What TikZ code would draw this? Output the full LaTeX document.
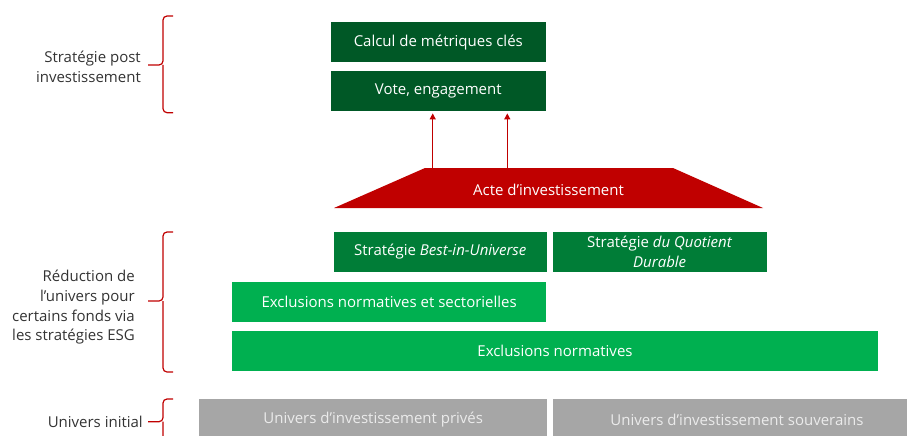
\documentclass[tikz,border=0pt]{standalone}
\usepackage{fontspec}
\setmainfont{Open Sans}
\usetikzlibrary{arrows.meta}
\definecolor{postgreen}{RGB}{0,88,38}
\definecolor{stratgreen}{RGB}{0,125,55}
\definecolor{exclgreen}{RGB}{0,176,80}
\definecolor{univgrey}{RGB}{166,166,166}
\definecolor{acteRed}{RGB}{192,0,0}
\tikzset{
  box/.style={fill=#1, text=white, inner sep=0pt, minimum height=40pt,
    font=\fontsize{15}{19.5}\selectfont, align=center},
  label/.style={text=black!80, anchor=east, inner sep=0pt,
    font=\fontsize{15}{19.7}\selectfont},
  brace line/.style={draw=acteRed, line width=1.2pt, rounded corners=4pt},
  red arrow/.style={draw=acteRed, line width=1.2pt, shorten >=2.5pt,
    -{Triangle[width=6pt,length=6pt]}}
}
% side brace: x, top, tip, bottom
\def\sidebrace(#1:#2:#3:#4){\draw[brace line] (#1+10,#2) -- (#1,#2) -- (#1,#3) -- (#1-15,#3);
  \draw[brace line] (#1,#3) -- (#1,#4) -- (#1+10,#4);}

\begin{document}
\begin{tikzpicture}[x=1pt,y=-1pt]
  %%%%% START %%%%%
  \useasboundingbox (0,0) rectangle (907,436);

  % post investissement
  \node[box=postgreen, minimum width=215pt] (calcul) at (438.3,42.3) {Calcul de métriques clés};
  \node[box=postgreen, minimum width=215pt] (vote) at (438.3,90.7) {Vote, engagement};

  % acte d'investissement
  \fill[acteRed] (334,208) -- (425,168) -- (673,168) -- (763,208) -- cycle;
  \node[text=white, font=\fontsize{15}{19.5}\selectfont] (acte) at (548.5,190) {Acte d’investissement};
  \coordinate (fleche1) at (432.7,168);
  \coordinate (fleche2) at (507.3,168);
  \draw[red arrow] (fleche1) -- (fleche1 |- vote.south);
  \draw[red arrow] (fleche2) -- (fleche2 |- vote.south);

  % reduction de l'univers
  \node[box=stratgreen, minimum width=213pt] (best) at (440.3,251.8) {Stratégie \textit{Best-in-Universe}};
  \node[box=stratgreen, minimum width=214pt] (quotient) at (659.7,251.8) {Stratégie \textit{du Quotient}\\\textit{Durable}};
  \node[box=exclgreen, minimum width=314.5pt] (exsect) at (389.2,301.5) {Exclusions normatives et sectorielles};
  \node[box=exclgreen, minimum width=646pt] (exnorm) at (555,350.8) {Exclusions normatives};

  % univers initial
  \node[box=univgrey, minimum width=347.7pt, minimum height=42pt, text=white!92!black] (prive) at (373.2,420) {Univers d’investissement privés};
  \node[box=univgrey, minimum width=368pt, minimum height=42pt, text=white!92!black] (souverain) at (737,420) {Univers d’investissement souverains};

  % accolades et libelles
  \sidebrace(163:16:65:112.7)
  \sidebrace(163:232:301:372)
  \sidebrace(163:399:421.7:445)
  \node[label, align=right] (post) at (141,66.5) {Stratégie post\\investissement};
  \node[label, align=right] (reduction) at (135,307.5) {Réduction de\\l’univers pour\\certains fonds via\\les stratégies ESG};
  \node[label] (initial) at (143,421.7) {Univers initial};

  %%%%% END %%%%%
\end{tikzpicture}
\end{document}
